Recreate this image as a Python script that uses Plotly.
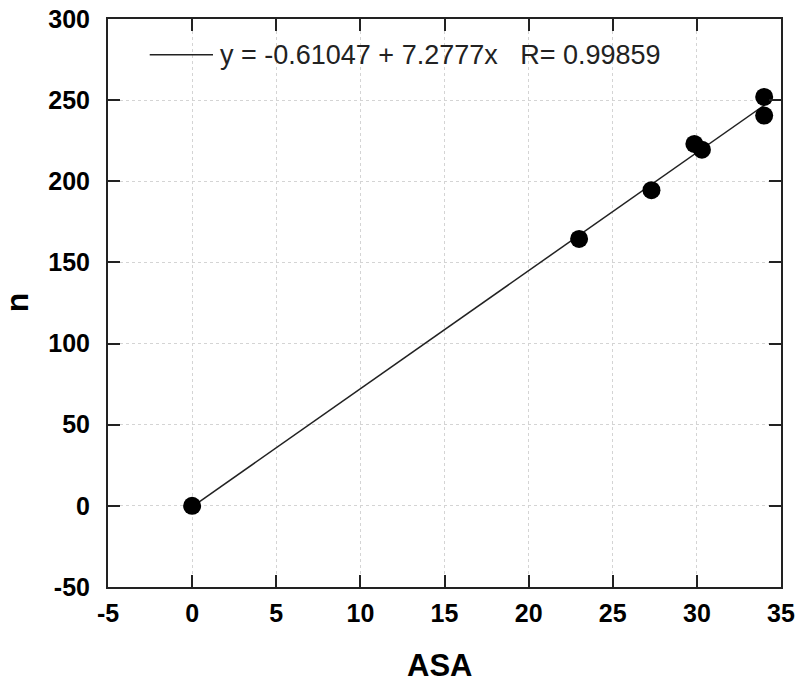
import numpy as np
import plotly.graph_objects as go

# Measured points (ASA vs n)
asa = [0.0, 23.0, 27.3, 29.85, 30.3, 34.0, 34.0]
n_vals = [0.0, 164.5, 194.5, 223.0, 219.5, 252.0, 240.5]

# Fit reported on the chart
intercept = -0.61047
slope = 7.2777
r_value = 0.99859

x_ticks = [-5, 0, 5, 10, 15, 20, 25, 30, 35]
y_ticks = [-50, 0, 50, 100, 150, 200, 250, 300]

FONT = "Liberation Sans, Arial, sans-serif"

fit_x = np.array([min(asa), max(asa)])
fit_y = intercept + slope * fit_x
fit_label = f"y = {intercept:.5f} + {slope}x   R= {r_value}"

fig = go.Figure()

fig.add_trace(go.Scatter(
    x=fit_x, y=fit_y,
    mode="lines",
    line=dict(color="#222222", width=1.5),
    name=fit_label,
    showlegend=False,
))

fig.add_trace(go.Scatter(
    x=asa, y=n_vals,
    mode="markers",
    marker=dict(color="black", size=18, symbol="circle"),
    showlegend=False,
))

axis_common = dict(
    showline=True,
    linecolor="#222222",
    linewidth=2,
    mirror="ticks",
    ticks="inside",
    ticklen=12,
    tickwidth=2,
    tickcolor="#222222",
    showgrid=True,
    gridcolor="#d4d4d4",
    griddash="dot",
    gridwidth=1,
    zeroline=False,
    automargin=False,
    ticklabeloverflow="allow",
    tickfont=dict(family=FONT, size=25, color="black", weight="bold"),
)

fig.update_layout(
    width=797,
    height=682,
    paper_bgcolor="white",
    plot_bgcolor="white",
    margin=dict(l=108, r=16, t=19, b=95),
    font=dict(family=FONT, color="black"),
    showlegend=False,
    xaxis=dict(
        axis_common,
        range=[-5, 35],
        tickvals=x_ticks,
        ticktext=[str(v) for v in x_ticks],
        ticklabelstandoff=3,
    ),
    yaxis=dict(
        axis_common,
        range=[-50, 300],
        tickvals=y_ticks,
        ticktext=[str(v) for v in y_ticks],
        ticklabelstandoff=11,
    ),
)

# Legend-style key for the fit line
fig.add_shape(
    type="line", xref="paper", yref="paper",
    x0=0.062, x1=0.156, y0=0.937, y1=0.937,
    line=dict(color="#222222", width=1.5),
)
fig.add_annotation(
    text=fit_label, xref="paper", yref="paper", x=0.163, y=0.937,
    xanchor="left", yanchor="middle", showarrow=False,
    font=dict(family=FONT, size=27, color="#222222"),
)

# Axis titles
fig.add_annotation(
    text="ASA", xref="paper", yref="paper", x=0.493, y=-0.139,
    xanchor="center", yanchor="middle", showarrow=False,
    font=dict(family=FONT, size=31, color="black", weight="bold"),
)
fig.add_annotation(
    text="n", xref="paper", yref="paper", x=-0.134, y=0.501,
    xanchor="center", yanchor="middle", showarrow=False, textangle=-90,
    font=dict(family=FONT, size=32, color="black", weight="bold"),
)

# drop the default 8px body margin so the figure fills the window
fig.write_html(
    "out.html",
    config={"displayModeBar": False},
    post_script="document.body.style.margin = '0';",
)
